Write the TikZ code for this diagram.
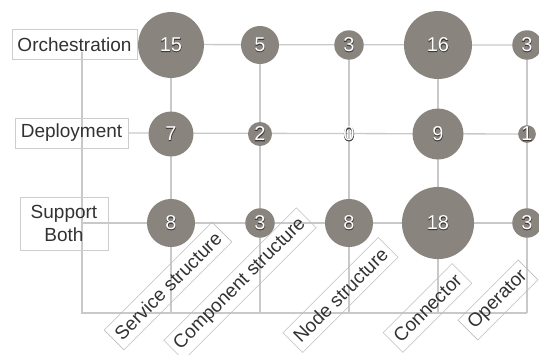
\documentclass[tikz,border=0pt]{standalone}
\usepackage{fontspec}
\setmainfont{Liberation Sans}
\newfontfamily\numfontout[FakeBold=3]{Liberation Sans}
\newfontfamily\numfont{Liberation Sans}
\definecolor{bubble}{RGB}{138,132,127}
\definecolor{gridc}{RGB}{201,201,201}
\definecolor{boxc}{RGB}{205,205,205}
\definecolor{rotc}{RGB}{190,190,190}
\definecolor{txtc}{RGB}{50,50,50}
\definecolor{numedge}{RGB}{62,58,55}
\newcommand\olnum[1]{{\fontsize{20}{22}\selectfont
  \rlap{\numfontout\fontsize{20}{22}\selectfont\color{numedge}#1}%
  {\numfont\fontsize{20}{22}\selectfont\color{white}#1}}}
\pgfdeclarelayer{bg}
\pgfsetlayers{bg,main}
\tikzset{
  bub/.style={circle, fill=bubble, inner sep=0pt, minimum size={17*sqrt(#1)}},
  zerolab/.style={inner sep=0pt},
  rowlab/.style={draw=boxc, line width=0.8pt, text=txtc, align=center,
    inner sep=0pt, font=\fontsize{19}{23}\selectfont},
  collab/.style={draw=rotc, line width=0.6pt, text=txtc, rotate=45,
    inner xsep=5pt, inner ysep=0pt, minimum height=28pt,
    font=\fontsize{19}{23}\selectfont},
  gridl/.style={draw=gridc, line width=1.3pt}
}
\begin{document}
\begin{tikzpicture}[x=1pt,y=-1pt]
\path[use as bounding box] (0,0) rectangle (539,354);
% row labels
\node[rowlab, minimum width=125pt, minimum height=30pt] (lo) at (74.5,44.5) {Orchestration};
\node[rowlab, minimum width=113pt, minimum height=30pt] (ld) at (71.5,133) {Deployment};
\node[rowlab, minimum width=88pt, minimum height=53pt] (ls) at (64,223.5) {Support\\Both};
% bubbles
\node[bub=15] (o1) at (171,45) {\olnum{15}};
\node[bub=5]  (o2) at (260,45) {\olnum{5}};
\node[bub=3]  (o3) at (349,45) {\olnum{3}};
\node[bub=16] (o4) at (438,45) {\olnum{16}};
\node[bub=3]  (o5) at (527,45) {\olnum{3}};
\node[bub=7]  (d1) at (171,134) {\olnum{7}};
\node[bub=2]  (d2) at (260,134) {\olnum{2}};
\node[zerolab] (d3) at (349,134) {\olnum{0}};
\node[bub=9]  (d4) at (438,134) {\olnum{9}};
\node[bub=1]  (d5) at (527,134) {\olnum{1}};
\node[bub=8]  (s1) at (171,223) {\olnum{8}};
\node[bub=3]  (s2) at (260,223) {\olnum{3}};
\node[bub=8]  (s3) at (349,223) {\olnum{8}};
\node[bub=18] (s4) at (438,223) {\olnum{18}};
\node[bub=3]  (s5) at (527,223) {\olnum{3}};
% grid coordinates
\coordinate (tl) at (82,52);
\coordinate (bl) at (82,313);
\coordinate (ml) at (82,223);
\coordinate (b1) at (171,313);
\coordinate (b2) at (260,313);
\coordinate (b3) at (349,313);
\coordinate (b4) at (438,313);
\coordinate (b5) at (527,313);
\begin{pgfonlayer}{bg}
\draw[gridl] (lo.east) -- (o5.center);
\draw[gridl] (ld.east) -- (d5.center);
\draw[gridl] (ml) -- (s5.center);
\draw[gridl] (tl) -- (bl) -- (b5);
\draw[gridl] (o1.center) -- (d1.center) -- (s1.center) -- (b1);
\draw[gridl] (o2.center) -- (d2.center) -- (s2.center) -- (b2);
\draw[gridl] (o3.center) -- (d3.center) -- (s3.center) -- (b3);
\draw[gridl] (o4.center) -- (d4.center) -- (s4.center) -- (b4);
\draw[gridl] (o5.center) -- (d5.center) -- (s5.center) -- (b5);
\end{pgfonlayer}
% column labels
\node[collab] (c1) at (168,286) {Service structure};
\node[collab] (c2) at (240,284) {Component structure};
\node[collab] (c3) at (340.5,295) {Node structure};
\node[collab] (c4) at (427.5,308) {Connector};
\node[collab] (c5) at (498,300) {Operator};
\end{tikzpicture}
\end{document}
